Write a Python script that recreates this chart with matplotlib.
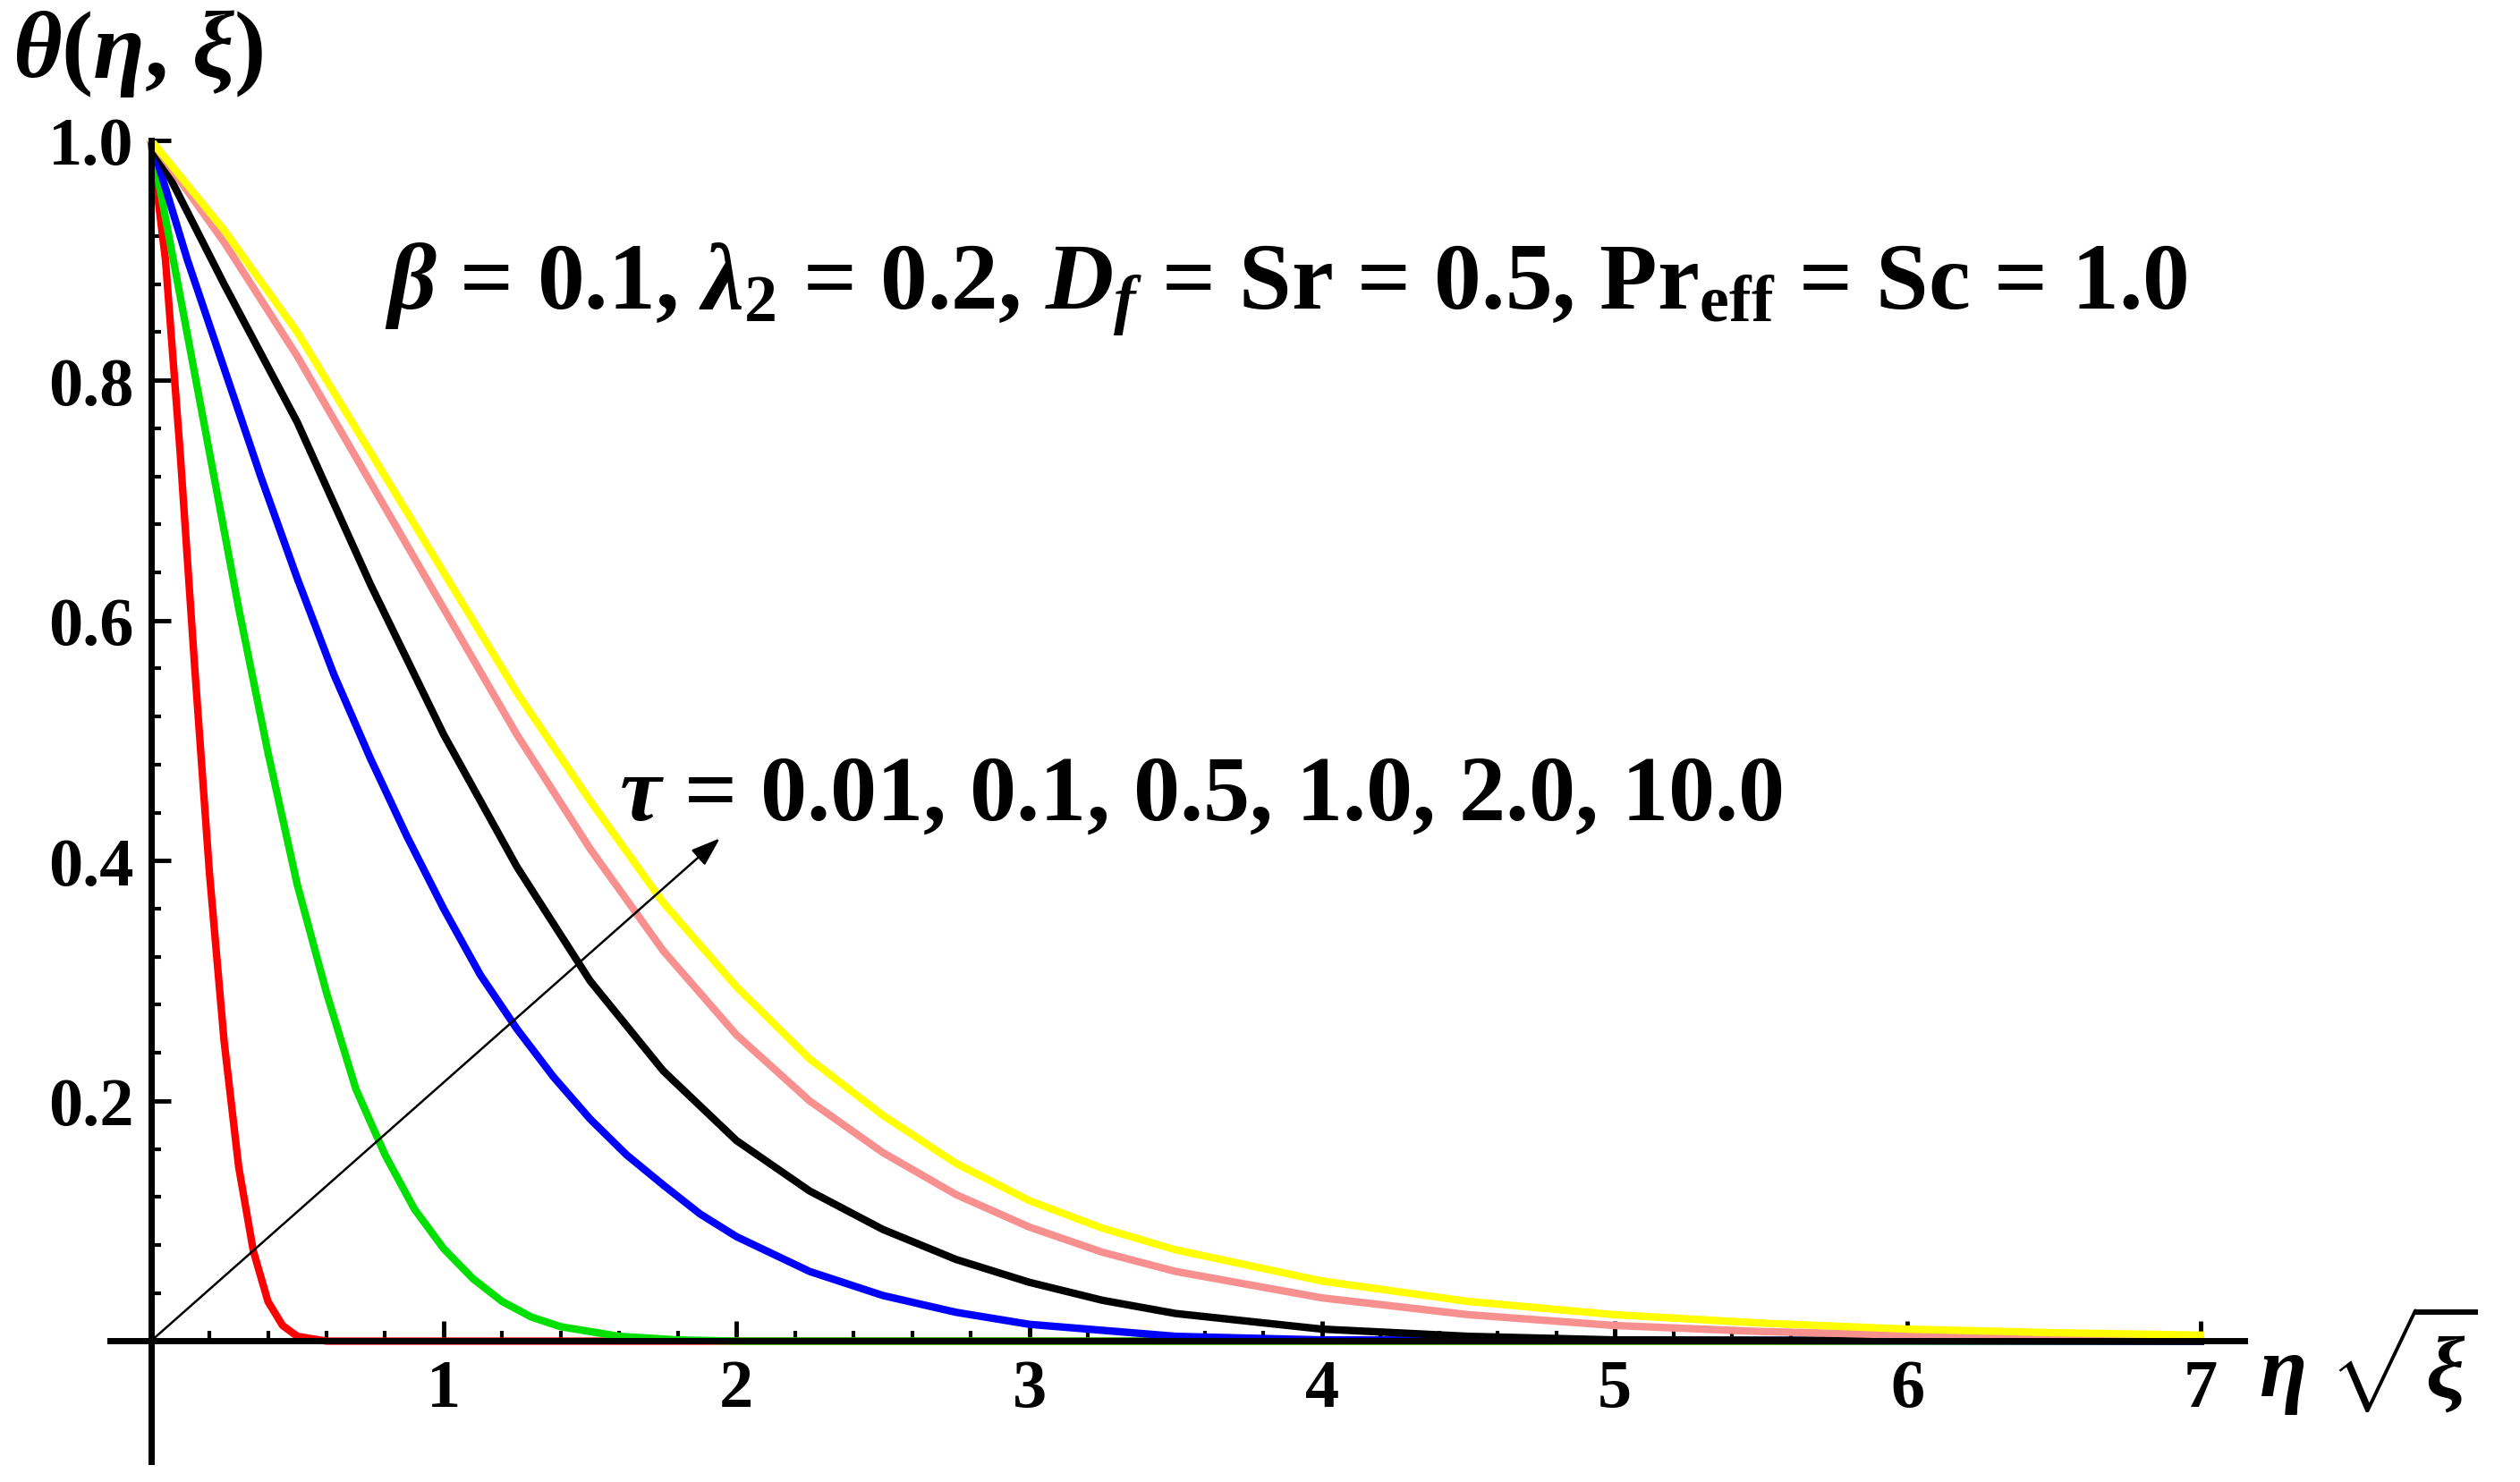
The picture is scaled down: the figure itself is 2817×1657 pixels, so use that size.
import matplotlib
matplotlib.use("Agg")
import matplotlib.pyplot as plt

x_red = [0, 0.05, 0.1, 0.15, 0.2, 0.25, 0.3, 0.35, 0.4, 0.45, 0.5, 0.6, 7]
y_red = [1, 0.9, 0.74, 0.56, 0.39, 0.25, 0.145, 0.075, 0.033, 0.013, 0.004, 0, 0]
x_green = [0, 0.1, 0.2, 0.3, 0.4, 0.5, 0.6, 0.7, 0.8, 0.9, 1.0, 1.1, 1.2, 1.3, 1.4, 1.6, 1.8, 2.0, 7]
y_green = [1, 0.87, 0.74, 0.61, 0.49, 0.38, 0.29, 0.21, 0.155, 0.11, 0.077, 0.052, 0.033, 0.02, 0.012, 0.004, 0.001, 0, 0]
x_blue = [0, 0.125, 0.25, 0.375, 0.5, 0.625, 0.75, 0.875, 1.0, 1.125, 1.25, 1.375, 1.5, 1.625, 1.75, 1.875,
          2.0, 2.25, 2.5, 2.75, 3.0, 3.5, 4.0, 7]
y_blue = [1, 0.9, 0.81, 0.72, 0.635, 0.555, 0.485, 0.42, 0.36, 0.305, 0.26, 0.22, 0.185, 0.155, 0.13, 0.106,
          0.087, 0.058, 0.038, 0.024, 0.014, 0.004, 0.001, 0]
x_black = [0, 0.25, 0.5, 0.75, 1.0, 1.25, 1.5, 1.75, 2.0, 2.25, 2.5, 2.75, 3.0, 3.25, 3.5, 4.0, 4.5, 5.0, 7]
y_black = [1, 0.88, 0.765, 0.63, 0.505, 0.395, 0.3, 0.225, 0.167, 0.125, 0.093, 0.068, 0.049, 0.034, 0.023, 0.01, 0.004, 0.001, 0]
x_pink = [0, 0.25, 0.5, 0.75, 1.0, 1.25, 1.5, 1.75, 2.0, 2.25, 2.5, 2.75, 3.0, 3.25, 3.5, 4.0, 4.5, 5.0, 5.5, 6.0, 6.5, 7.0]
y_pink = [1, 0.915, 0.82, 0.715, 0.61, 0.505, 0.41, 0.325, 0.255, 0.2, 0.157, 0.122, 0.095, 0.074, 0.058, 0.036, 0.022, 0.013, 0.008, 0.005, 0.003, 0.002]
x_yellow = [0, 0.25, 0.5, 0.75, 1.0, 1.25, 1.5, 1.75, 2.0, 2.25, 2.5, 2.75, 3.0, 3.25, 3.5, 4.0, 4.5, 5.0, 5.5, 6.0, 6.5, 7.0]
y_yellow = [1, 0.925, 0.84, 0.74, 0.64, 0.54, 0.45, 0.365, 0.295, 0.235, 0.188, 0.148, 0.117, 0.094, 0.076, 0.05, 0.033, 0.022, 0.015, 0.01, 0.007, 0.005]

plt.rcParams['font.family'] = ['Liberation Serif', 'DejaVu Serif']
plt.rcParams['mathtext.fontset'] = 'custom'
plt.rcParams['mathtext.rm'] = 'Liberation Serif:bold'
plt.rcParams['mathtext.it'] = 'Liberation Serif:bold:italic'
plt.rcParams['mathtext.bf'] = 'Liberation Serif:bold'

fig = plt.figure(figsize=(28.17, 16.58), dpi=100)
ax = fig.add_axes([0.0436, 0.014, 0.847, 0.891])
ax.set_xlim(-0.14, 7.15)
ax.set_ylim(-0.1, 1.0)

lw = 6
ax.plot(x_red, y_red, color='#ff0000', lw=lw)
ax.plot(x_green, y_green, color='#00e000', lw=lw)
ax.plot(x_blue, y_blue, color='#0000ff', lw=lw)
ax.plot(x_black, y_black, color='black', lw=lw)
ax.plot(x_pink, y_pink, color='#f89090', lw=lw)
ax.plot(x_yellow, y_yellow, color='#ffff00', lw=lw)

for s in ['top', 'right']:
    ax.spines[s].set_visible(False)
ax.spines['left'].set_position(('data', 0))
ax.spines['bottom'].set_position(('data', 0))
ax.spines['left'].set_linewidth(5)
ax.spines['bottom'].set_linewidth(5)

ax.set_xticks([1, 2, 3, 4, 5, 6, 7])
ax.set_yticks([0.2, 0.4, 0.6, 0.8, 1.0])
ax.set_yticklabels(['0.2', '0.4', '0.6', '0.8', '1.0'])
ax.set_xticks([i * 0.2 for i in range(1, 36) if i % 5], minor=True)
ax.set_yticks([i * 0.04 for i in range(1, 25) if i % 5], minor=True)
ax.tick_params(which='major', direction='in', length=16, width=3.5, labelsize=55, pad=14)
ax.tick_params(which='minor', direction='in', length=8, width=3)
for lab in ax.get_xticklabels() + ax.get_yticklabels():
    lab.set_fontweight('bold')

ax.annotate('', xy=(1.95, 0.42), xytext=(0, 0),
            arrowprops=dict(arrowstyle='-|>,head_length=2.0,head_width=0.7', color='black', lw=1.8))
ax.text(1.6, 0.435, r'$\tau$ = 0.01, 0.1, 0.5, 1.0, 2.0, 10.0', fontsize=75, fontweight='bold')
ax.text(0.8, 0.86, r'$\beta$ = 0.1, $\lambda_2$ = 0.2, $D_f$ = Sr = 0.5, Pr$_{\mathrm{eff}}$ = Sc = 1.0',
        fontsize=76, fontweight='bold')
fig.text(0.005, 0.948, r'$\theta$($\eta$, $\xi$)', fontsize=76, fontweight='bold')
ax.text(7.2, -0.015, r'$\eta\ \sqrt{\xi}$', fontsize=70, fontweight='bold', va='center')

fig.savefig('out.png', dpi=100)
